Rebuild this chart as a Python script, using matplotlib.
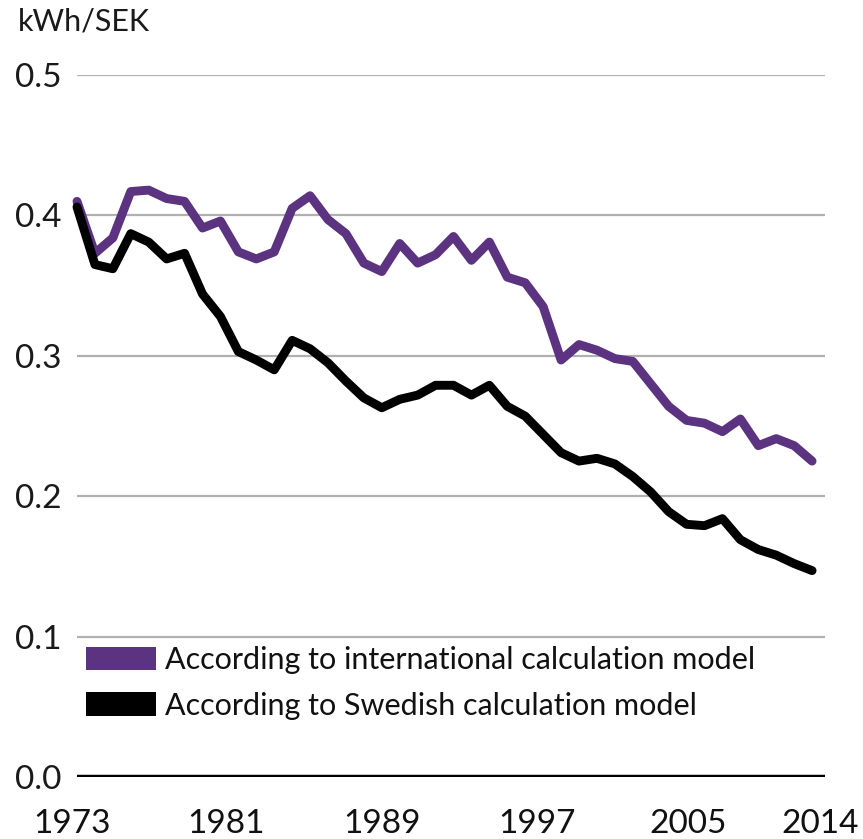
import matplotlib
matplotlib.use("Agg")
import matplotlib.pyplot as plt
from matplotlib.patches import Patch

# data
years = list(range(1973, 2015))
international = [
    0.410, 0.373, 0.384, 0.417, 0.418, 0.412, 0.410, 0.391, 0.396, 0.374,
    0.369, 0.374, 0.405, 0.414, 0.397, 0.387, 0.366, 0.360, 0.380, 0.366,
    0.372, 0.385, 0.368, 0.381, 0.356, 0.352, 0.335, 0.297, 0.308, 0.304,
    0.298, 0.296, 0.280, 0.264, 0.254, 0.252, 0.246, 0.255, 0.236, 0.241,
    0.236, 0.225,
]
swedish = [
    0.406, 0.365, 0.362, 0.387, 0.381, 0.369, 0.373, 0.344, 0.328, 0.303,
    0.297, 0.290, 0.311, 0.305, 0.295, 0.282, 0.270, 0.263, 0.269, 0.272,
    0.279, 0.279, 0.272, 0.279, 0.264, 0.257, 0.244, 0.231, 0.225, 0.227,
    0.223, 0.214, 0.203, 0.189, 0.180, 0.179, 0.184, 0.169, 0.162, 0.158,
    0.152, 0.147,
]
y_ticks = [0.0, 0.1, 0.2, 0.3, 0.4, 0.5]
x_labels = ["1973", "1981", "1989", "1997", "2005", "2014"]
# label centres as placed in the original (not exactly under their years)
x_label_pos = [1972.72, 1981.31, 1990.01, 1998.65, 2007.08, 2014.44]
series_names = ["According to international calculation model",
                "According to Swedish calculation model"]

PURPLE = "#5b3381"
FONT = ["Lato", "DejaVu Sans"]

plt.rcParams["font.family"] = FONT
plt.rcParams["font.weight"] = "normal"

fig = plt.figure(figsize=(8.63, 8.39), dpi=100, facecolor="white")
ax = fig.add_axes([77 / 863, 1 - 777 / 839, 748 / 863, 702 / 839])
ax.set_xlim(1973, 2014.72)
ax.set_ylim(0, 0.5)

for v in y_ticks[1:]:
    ax.axhline(v, color="#b0b0b0", lw=1.6, zorder=1)
ax.axhline(0, color="black", lw=3.2, zorder=3)

ax.plot(years, international, color=PURPLE, lw=6.4, zorder=4,
        solid_joinstyle="round", solid_capstyle="round", clip_on=False)
ax.plot(years, swedish, color="black", lw=6.4, zorder=5,
        solid_joinstyle="round", solid_capstyle="round", clip_on=False)

for s in ax.spines.values():
    s.set_visible(False)
ax.set_xticks([])
ax.set_yticks(y_ticks)
ax.set_yticklabels([f"{v:.1f}" for v in y_ticks])
ax.tick_params(axis="y", length=0, pad=11, labelsize=24, labelcolor="#1a1a1a")

for pos, lab in zip(x_label_pos, x_labels):
    ax.text(pos, -0.067, lab, transform=ax.get_xaxis_transform(),
            ha="center", va="center", fontsize=24, color="#111111", clip_on=False)

fig.text(18 / 863, 1 - 22 / 839, "kWh/SEK", ha="left", va="center",
         fontsize=22, color="#1a1a1a")

handles = [Patch(facecolor=PURPLE, edgecolor="none"),
           Patch(facecolor="black", edgecolor="none")]
leg = ax.legend(handles, series_names, loc="upper left",
                bbox_to_anchor=(9 / 748, 1 - 571 / 702), frameon=False,
                fontsize=22, handlelength=2.3, handleheight=0.8,
                handletextpad=0.3, labelspacing=0.58, borderaxespad=0,
                borderpad=0)
for t in leg.get_texts():
    t.set_color("#111111")

fig.savefig("out.png", dpi=100, facecolor="white")
